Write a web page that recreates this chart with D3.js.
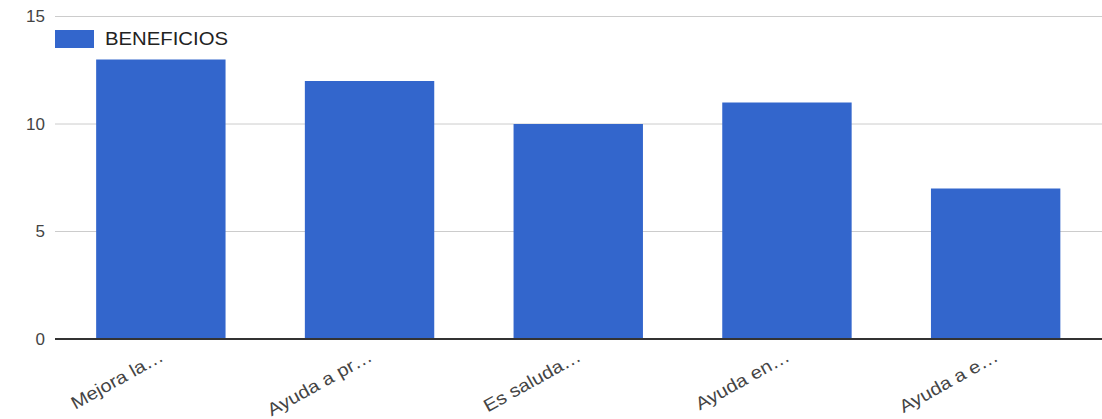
<!DOCTYPE html>
<html>
<head>
<meta charset="utf-8">
<script src="https://cdn.jsdelivr.net/npm/d3@7"></script>
<style>
  body { margin: 0; background: #fff; }
  text { font-family: Arial, "Liberation Sans", sans-serif; }
</style>
</head>
<body>
<svg width="1102" height="419"></svg>
<script>
// data
const categories = ['Mejora la…', 'Ayuda a pr…', 'Es saluda…', 'Ayuda en…', 'Ayuda a e…']
const values = [13, 12, 10, 11, 7]
const seriesName = 'BENEFICIOS'
const yTicks = [0, 5, 10, 15]

const dim = {
    width: 1102, height: 419,
    margin: { top: 16.5, right: 2, bottom: 80, left: 56.5 }
}

const svg = d3.select('svg')

let x = d3.scaleBand()
    .domain(categories)
    .range([dim.margin.left, dim.width - dim.margin.right])
    .paddingInner(0.38)
    .paddingOuter(0.19)

let y = d3.scaleLinear()
    .domain([0, 15])
    .range([dim.height - dim.margin.bottom, dim.margin.top])

// gridlines
svg.append('g')
    .selectAll('line')
    .data(yTicks.filter(d => d > 0))
    .join('line')
    .attr('x1', 55)
    .attr('x2', dim.width)
    .attr('y1', d => y(d))
    .attr('y2', d => y(d))
    .attr('stroke', '#cccccc')
    .attr('stroke-width', 1)

// y axis labels
const yAxis = d3.axisLeft(y).tickValues(yTicks).tickSize(0).tickPadding(10)
svg.append('g')
    .attr('transform', `translate(55, 0)`)
    .call(yAxis)
    .call(g => g.select('.domain').remove())
    .call(g => g.selectAll('text')
        .attr('font-size', 17)
        .attr('fill', '#444')
        .attr('font-family', 'Arial, "Liberation Sans", sans-serif'))

// bars
svg.append('g')
    .selectAll('rect')
    .data(values)
    .join('rect')
    .attr('x', (d, i) => x(categories[i]))
    .attr('width', x.bandwidth())
    .attr('y', d => y(d))
    .attr('height', d => y(0) - y(d))
    .attr('fill', '#3366cc')

// baseline
svg.append('line')
    .attr('x1', 55)
    .attr('x2', dim.width)
    .attr('y1', y(0))
    .attr('y2', y(0))
    .attr('stroke', '#333')
    .attr('stroke-width', 2)

// x axis labels, rotated and a bit stretched like the source
const xAxis = d3.axisBottom(x).tickSize(0).tickPadding(0)
svg.append('g')
    .attr('transform', `translate(0, ${y(0)})`)
    .call(xAxis)
    .call(g => g.select('.domain').remove())
    .call(g => g.selectAll('text')
        .attr('font-size', 17)
        .attr('fill', '#444')
        .attr('font-family', 'Arial, "Liberation Sans", sans-serif')
        .attr('dy', null)
        .attr('y', null)
        .attr('text-anchor', 'end')
        .attr('transform', 'translate(4, 21) rotate(-29) scale(1.18, 1.05)'))

// legend
const legend = svg.append('g')
legend.append('rect')
    .attr('x', 55).attr('y', 30)
    .attr('width', 39).attr('height', 18)
    .attr('fill', '#3366cc')
legend.append('text')
    .attr('x', 105).attr('y', 45)
    .attr('font-size', 18)
    .attr('fill', '#222')
    .attr('textLength', 123)
    .attr('lengthAdjust', 'spacingAndGlyphs')
    .text(seriesName)
</script>
</body>
</html>
